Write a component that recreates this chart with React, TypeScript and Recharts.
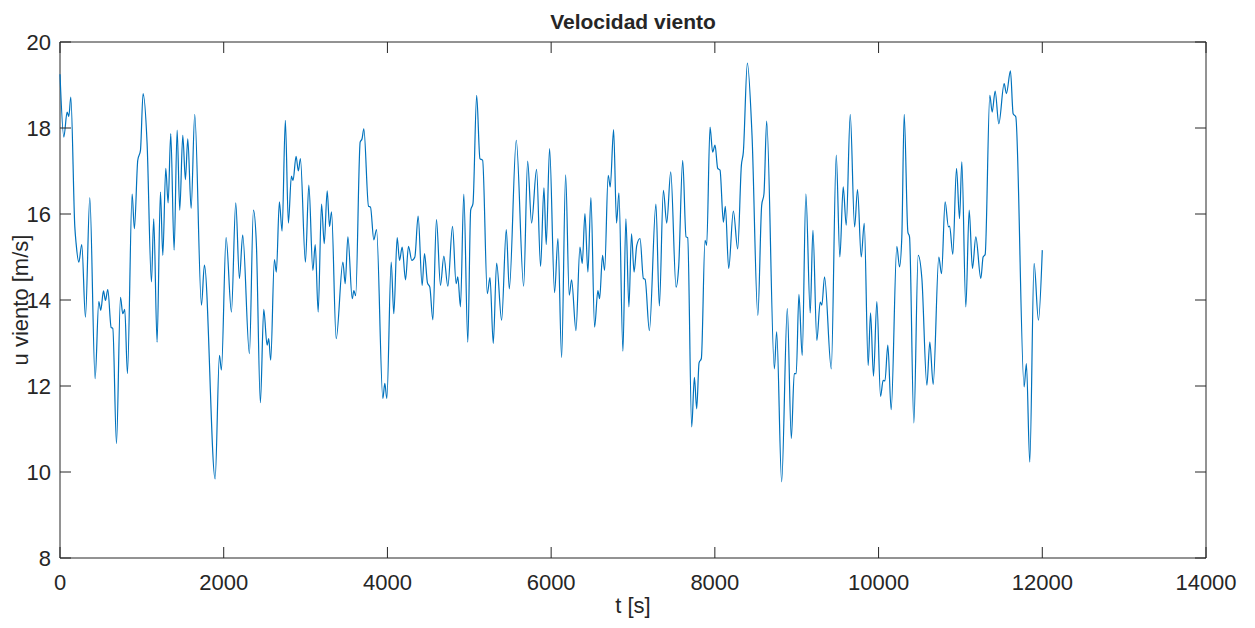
import { LineChart, Line, XAxis, YAxis, ReferenceArea } from "recharts";

// tiempo [s] y velocidad [m/s]
const times = [
  0, 47, 87, 108, 132, 181, 197, 230, 266, 311, 364, 429, 474, 498, 531, 555, 584, 625, 645, 690,
  739, 767, 791, 824, 881, 909, 950, 983, 1015, 1064, 1117, 1145, 1186, 1227, 1256, 1292, 1321, 1353, 1394, 1431,
  1463, 1500, 1532, 1561, 1602, 1646, 1728, 1764, 1895, 1948, 1972, 2029, 2094, 2147, 2192, 2232, 2314, 2363, 2399, 2448,
  2489, 2530, 2550, 2574, 2619, 2643, 2680, 2713, 2753, 2790, 2827, 2847, 2884, 2912, 2937, 2998, 3040, 3089, 3118, 3154,
  3195, 3228, 3264, 3293, 3317, 3374, 3456, 3484, 3517, 3570, 3590, 3612, 3667, 3690, 3712, 3769, 3793, 3834, 3867, 3944,
  3968, 3993, 4046, 4078, 4119, 4148, 4180, 4221, 4257, 4298, 4335, 4375, 4424, 4453, 4489, 4518, 4555, 4599, 4648, 4689,
  4738, 4795, 4839, 4860, 4892, 4933, 4982, 5017, 5045, 5090, 5130, 5163, 5220, 5253, 5293, 5334, 5395, 5452, 5489, 5574,
  5664, 5713, 5761, 5822, 5871, 5912, 5940, 5981, 6042, 6083, 6128, 6177, 6221, 6250, 6303, 6352, 6380, 6413, 6449, 6486,
  6531, 6571, 6592, 6628, 6653, 6697, 6722, 6763, 6799, 6828, 6877, 6913, 6950, 6982, 7013, 7046, 7086, 7127, 7148, 7200,
  7280, 7322, 7371, 7412, 7461, 7526, 7558, 7607, 7648, 7668, 7717, 7750, 7778, 7807, 7835, 7880, 7900, 7941, 7973, 8002,
  8035, 8063, 8104, 8128, 8169, 8226, 8279, 8324, 8348, 8397, 8454, 8525, 8572, 8600, 8633, 8727, 8755, 8816, 8885, 8934,
  8970, 8994, 9027, 9067, 9112, 9165, 9198, 9246, 9287, 9307, 9340, 9422, 9483, 9527, 9568, 9605, 9654, 9707, 9743, 9788,
  9825, 9873, 9902, 9938, 9979, 10024, 10056, 10078, 10113, 10154, 10223, 10256, 10284, 10313, 10358, 10378, 10431, 10484, 10529, 10590,
  10626, 10667, 10736, 10769, 10813, 10854, 10868, 10907, 10952, 10989, 11017, 11066, 11107, 11147, 11188, 11249, 11277, 11302, 11359, 11388,
  11424, 11469, 11534, 11562, 11611, 11644, 11676, 11778, 11806, 11847, 11900, 11953, 12000,
];

const speeds = [
  19.25, 17.79, 18.37, 18.27, 18.72, 15.7, 15.31, 14.88, 15.29, 13.6, 16.38, 12.17, 13.96, 13.76, 14.21, 13.99, 14.24, 13.36, 13.34, 10.66,
  14.06, 13.68, 13.78, 12.29, 16.46, 15.66, 17.25, 17.48, 18.8, 17.64, 14.42, 15.89, 13.02, 16.51, 15.04, 17.06, 16.26, 17.87, 15.16, 17.95,
  16.09, 17.83, 16.8, 17.75, 16.13, 18.32, 13.88, 14.81, 9.84, 12.71, 12.37, 15.45, 13.72, 16.26, 14.5, 15.51, 12.75, 16.09, 15.31, 11.61,
  13.78, 12.95, 13.1, 12.6, 14.94, 14.65, 16.28, 15.6, 18.18, 15.79, 16.88, 16.78, 17.34, 17.0, 17.29, 14.88, 16.67, 14.69, 15.29, 13.72,
  16.23, 15.31, 16.54, 15.71, 16.05, 13.1, 14.88, 14.38, 15.47, 14.03, 14.22, 14.1, 17.67, 17.75, 17.98, 16.18, 16.16, 15.4, 15.64, 11.71,
  12.06, 11.71, 14.88, 13.68, 15.45, 14.92, 15.23, 14.47, 15.25, 14.92, 15.0, 15.95, 14.34, 15.08, 14.4, 14.3, 13.54, 15.87, 14.34, 15.02,
  14.32, 15.71, 14.38, 14.54, 13.84, 16.46, 13.02, 16.09, 16.24, 18.76, 17.29, 17.25, 14.15, 14.52, 12.99, 14.86, 13.53, 15.64, 14.26, 17.71,
  14.32, 17.23, 15.79, 17.04, 14.78, 16.61, 15.29, 17.52, 14.17, 15.43, 12.66, 16.91, 14.11, 14.47, 13.29, 15.23, 14.85, 16.01, 14.65, 16.38,
  13.37, 14.22, 14.03, 15.04, 14.69, 16.9, 16.63, 17.96, 15.79, 16.49, 12.81, 15.89, 13.84, 15.54, 14.65, 15.27, 15.43, 14.5, 14.48, 13.29,
  16.23, 13.86, 16.55, 15.79, 16.98, 14.3, 14.77, 17.25, 15.47, 15.45, 11.05, 12.2, 11.47, 12.54, 12.64, 15.39, 15.27, 18.02, 17.44, 17.6,
  17.06, 17.02, 15.81, 16.18, 14.73, 16.07, 15.19, 17.13, 17.44, 19.51, 17.83, 13.64, 16.2, 16.47, 18.16, 12.4, 13.26, 9.77, 13.8, 10.78,
  12.29, 12.29, 14.13, 12.71, 16.47, 13.7, 15.62, 13.06, 13.95, 13.88, 14.54, 12.4, 17.37, 15.0, 16.63, 15.74, 18.32, 15.7, 16.57, 15.0,
  15.78, 12.48, 13.7, 12.23, 13.96, 11.76, 12.13, 12.12, 12.95, 11.45, 15.25, 14.77, 15.47, 18.32, 15.58, 15.47, 11.14, 15.04, 14.5, 12.02,
  13.02, 12.04, 15.0, 14.61, 16.28, 15.7, 15.72, 15.06, 17.06, 15.89, 17.21, 13.84, 16.09, 14.73, 15.47, 14.5, 15.0, 15.06, 18.76, 18.37,
  18.86, 18.1, 19.03, 18.8, 19.33, 18.33, 18.26, 11.98, 12.52, 10.23, 14.85, 13.53, 15.16,
];

const xTicks = [0, 2000, 4000, 6000, 8000, 10000, 12000, 14000];
const yTicks = [8, 10, 12, 14, 16, 18, 20];

const data = times.map((t, i) => ({ t, u: speeds[i] }));

const FONT = '"Liberation Sans", Arial, Helvetica, sans-serif';
const INK = "#262626";
const PLOT_W = 1146;
const PLOT_H = 516;
const TICK_LEN = 11;

function XTick(props: any) {
  const { x, y, payload } = props;
  return (
    <g>
      <line x1={x} y1={y} x2={x} y2={y - TICK_LEN} stroke={INK} />
      <line x1={x} y1={y - PLOT_H} x2={x} y2={y - PLOT_H + TICK_LEN} stroke={INK} />
      <text x={x} y={y + 32} textAnchor="middle" fontSize={22} fontFamily={FONT} fill={INK}>
        {payload.value}
      </text>
    </g>
  );
}

function YTick(props: any) {
  const { x, y, payload } = props;
  return (
    <g>
      <line x1={x} y1={y} x2={x + TICK_LEN} y2={y} stroke={INK} />
      <line x1={x + PLOT_W} y1={y} x2={x + PLOT_W - TICK_LEN} y2={y} stroke={INK} />
      <text x={x - 9} y={y + 8} textAnchor="end" fontSize={22} fontFamily={FONT} fill={INK}>
        {payload.value}
      </text>
    </g>
  );
}

export default function App() {
  return (
    <div
      style={{
        position: "absolute",
        left: 0,
        top: 0,
        width: 1255,
        height: 628,
        background: "#fff",
        fontFamily: FONT,
        color: INK,
      }}
    >
      <LineChart width={1255} height={628} data={data} margin={{ top: 42, right: 49, bottom: 20, left: 10 }}>
        <XAxis
          type="number"
          dataKey="t"
          domain={[0, 14000]}
          ticks={xTicks}
          interval={0}
          height={50}
          axisLine={false}
          tickLine={false}
          tickSize={0}
          tickMargin={0}
          tick={<XTick />}
        />
        <YAxis
          type="number"
          domain={[8, 20]}
          ticks={yTicks}
          interval={0}
          width={50}
          axisLine={false}
          tickLine={false}
          tickSize={0}
          tickMargin={0}
          tick={<YTick />}
        />
        <ReferenceArea x1={0} x2={14000} y1={8} y2={20} fill="none" stroke={INK} strokeWidth={1} />
        <Line
          type="monotone"
          dataKey="u"
          stroke="#0072BD"
          strokeWidth={1.2}
          dot={false}
          isAnimationActive={false}
        />
      </LineChart>
      <div
        style={{
          position: "absolute",
          left: 433,
          width: 400,
          top: 10,
          textAlign: "center",
          fontSize: 21,
          fontWeight: "bold",
        }}
      >
        Velocidad viento
      </div>
      <div
        style={{
          position: "absolute",
          left: 433,
          width: 400,
          top: 593,
          textAlign: "center",
          fontSize: 22,
        }}
      >
        t [s]
      </div>
      <div
        style={{
          position: "absolute",
          left: 21,
          top: 300,
          transform: "translate(-50%, -50%) rotate(-90deg)",
          whiteSpace: "nowrap",
          fontSize: 22,
        }}
      >
        u viento [m/s]
      </div>
    </div>
  );
}
